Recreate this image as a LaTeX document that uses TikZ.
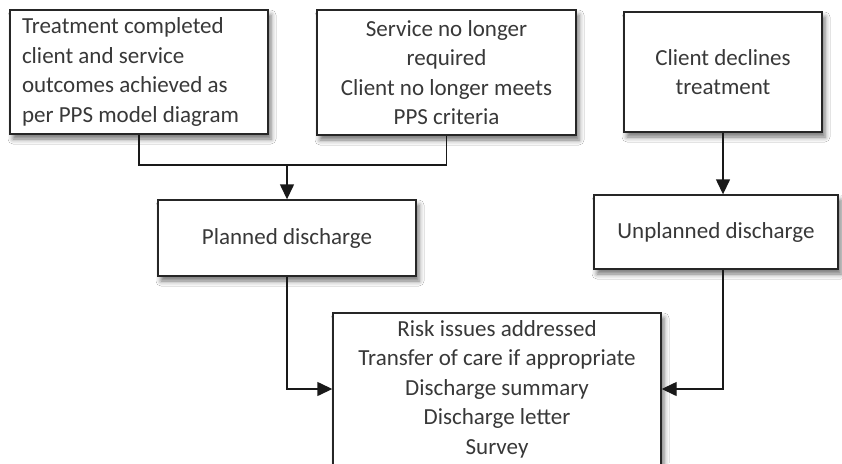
\documentclass[tikz,border=0pt]{standalone}
\usepackage{fontspec}
\setmainfont{Carlito}
\usetikzlibrary{arrows.meta,shadows.blur}
\begin{document}
\begin{tikzpicture}[x=1pt,y=-1pt,
  box/.style={draw=black!85, line width=1.4pt, fill=white, rectangle,
    inner sep=0pt, font=\fontsize{23}{29.5}\selectfont, text=black!78,
    blur shadow={shadow xshift=3pt, shadow yshift=-5pt, shadow blur radius=5pt, shadow opacity=55}},
  link/.style={draw=black!90, line width=1.4pt},
  arr/.style={link, -{Triangle[length=15pt,width=14pt]}}]
\useasboundingbox (0,0) rectangle (842,463);
\clip (0,0) rectangle (842,463);
\fill[white] (0,0) rectangle (842,463);

% reasons for discharge
\node[box, minimum width=258pt, minimum height=124pt, inner xsep=12pt,
      text width=234pt, align=flush left] (done) at (139,72)
  {Treatment completed\\client and service\\outcomes achieved as\\per PPS model diagram};
\node[box, minimum width=259pt, minimum height=125pt, align=center] (noneed) at (446.5,72.5)
  {Service no longer\\required\\Client no longer meets\\PPS criteria};
\node[box, minimum width=198pt, minimum height=120pt, align=center] (declines) at (723,72)
  {Client declines\\treatment};

% discharge types
\node[box, minimum width=258pt, minimum height=76pt] (planned) at (287,238) {Planned discharge};
\node[box, minimum width=244pt, minimum height=74pt] (unplanned) at (716,232) {Unplanned discharge};

% discharge tasks
\node[box, minimum width=328pt, minimum height=152pt, align=center] (tasks) at (497,389)
  {Risk issues addressed\\Transfer of care if appropriate\\Discharge summary\\Discharge letter\\Survey};

% connectors
\coordinate (join) at (287,165);
\draw[link] (done.south) |- (join) -| (noneed.south);
\draw[arr] (join) -- (planned.north);
\draw[arr] (declines.south) -- (declines.south |- unplanned.north);
\draw[arr] (planned.south) |- (tasks.west);
\draw[arr] (declines.south |- unplanned.south) |- (tasks.east);
\end{tikzpicture}
\end{document}
